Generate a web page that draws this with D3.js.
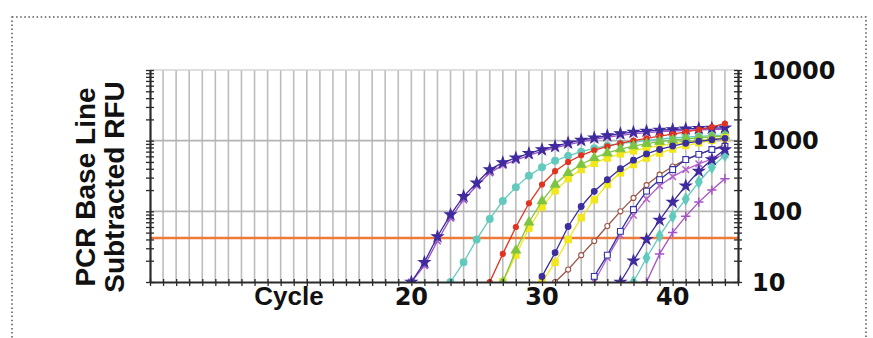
<!DOCTYPE html>
<html>
<head>
<meta charset="utf-8">
<script src="https://cdn.jsdelivr.net/npm/d3@7"></script>
<style>
  body { margin: 0; background: #fff; }
  svg { display: block; }
</style>
</head>
<body>
<div id="vis"></div>
<script>
const FRAME_WIDTH = 873;
const FRAME_HEIGHT = 338;
const PLOT = {left: 150, right: 738, top: 70, bottom: 282};

// axis labels
const xLabels = [20, 30, 40];
const yLabels = ["10", "100", "1000", "10000"];
const thresholdRfu = [42];

// first cycle of every amplification curve
const firstCycle = [20, 20, 23, 26, 27, 27, 30, 30, 31, 34, 34, 36, 37, 38];

// RFU per cycle
const rfuA1 = [10, 19, 44, 90, 163, 252, 390, 490, 570, 660, 750, 830, 930, 1015, 1100, 1180, 1260, 1320, 1365, 1410, 1440, 1470, 1490, 1505, 1520];
const rfuA2 = [10, 17, 38, 80, 145, 230, 350, 450, 530, 620, 710, 790, 880, 960, 1040, 1120, 1190, 1250, 1300, 1340, 1370, 1400, 1420, 1440, 1460];
const rfuB1 = [10, 19, 40, 78, 140, 220, 320, 420, 520, 610, 700, 780, 850, 910, 960, 1010, 1050, 1090, 1120, 1150, 1180, 1200];
const rfuC1 = [10, 25, 60, 130, 240, 370, 500, 620, 730, 830, 920, 1000, 1080, 1160, 1240, 1330, 1430, 1560, 1750];
const rfuC2 = [10, 28, 70, 140, 240, 350, 460, 570, 670, 760, 840, 910, 970, 1020, 1060, 1100, 1130, 1160];
const rfuC3 = [10, 24, 58, 115, 195, 290, 390, 480, 570, 650, 720, 790, 850, 900, 950, 1000, 1050, 1100];
const rfuD1 = [12, 26, 61, 117, 192, 280, 400, 530, 650, 750, 840, 920, 980, 1030, 1080];
const rfuD2 = [10, 19, 40, 81, 146, 240, 350, 460, 570, 670, 760, 850, 930, 1010, 1100];
const rfuE1 = [10, 15, 24, 38, 62, 100, 155, 235, 330, 430, 540, 640, 750, 870];
const rfuE2 = [12, 24, 52, 106, 193, 280, 390, 540, 640, 750, 830];
const rfuE3 = [10, 22, 46, 88, 150, 230, 310, 390, 470, 550, 640];
const rfuF1 = [10, 20, 40, 75, 135, 230, 370, 540, 750];
const rfuF2 = [10, 22, 45, 85, 150, 260, 420, 620];
const rfuF3 = [10, 25, 50, 85, 135, 200, 290];

const rfuAll = [rfuA2, rfuA1, rfuB1, rfuC1, rfuC3, rfuC2, rfuD2, rfuD1, rfuE1, rfuE3, rfuE2, rfuF2, rfuF1, rfuF3];
const firstAll = [firstCycle[1], firstCycle[0], firstCycle[2], firstCycle[3], firstCycle[5], firstCycle[4],
                  firstCycle[7], firstCycle[6], firstCycle[8], firstCycle[10], firstCycle[9],
                  firstCycle[12], firstCycle[11], firstCycle[13]];

const symTimes = d3.symbolTimes || d3.symbolCross;
const symPlus = d3.symbolPlus || d3.symbolCross;

// drawing styles, same order as rfuAll
const styles = [
  {color: "#9a52c4", sym: symTimes, size: 30, fill: "none", stroke: true},
  {color: "#3f2b9e", sym: d3.symbolStar, size: 38, fill: "#3f2b9e"},
  {color: "#62cabc", sym: d3.symbolCircle, size: 36, fill: "#62cabc"},
  {color: "#e2331f", sym: d3.symbolCircle, size: 20, fill: "#e2331f"},
  {color: "#f2e61c", sym: d3.symbolSquare, size: 40, fill: "#f2e61c"},
  {color: "#7ec442", sym: d3.symbolTriangle, size: 36, fill: "#7ec442"},
  {color: "#f2e61c", sym: d3.symbolSquare, size: 40, fill: "#f2e61c"},
  {color: "#3b2f9e", sym: d3.symbolCircle, size: 26, fill: "#3b2f9e"},
  {color: "#9c5444", sym: d3.symbolCircle, size: 20, fill: "#fff"},
  {color: "#b462cc", sym: symTimes, size: 30, fill: "none", stroke: true},
  {color: "#3535a8", sym: d3.symbolSquare, size: 34, fill: "#fff"},
  {color: "#62cabc", sym: d3.symbolDiamond, size: 40, fill: "#62cabc"},
  {color: "#3f2b9e", sym: d3.symbolStar, size: 38, fill: "#3f2b9e"},
  {color: "#a552c4", sym: symPlus, size: 30, fill: "none", stroke: true}
];

const svg = d3.select("#vis")
  .append("svg")
    .attr("width", FRAME_WIDTH)
    .attr("height", FRAME_HEIGHT);

// dotted frame
svg.append("rect")
  .attr("x", 12).attr("y", 17)
  .attr("width", 854).attr("height", 360)
  .attr("fill", "none")
  .attr("stroke", "#555")
  .attr("stroke-width", 1.5)
  .attr("stroke-dasharray", "1.5,2.6");

const X = d3.scaleLinear().domain([0, 45]).range([PLOT.left, PLOT.right]);
const Y = d3.scaleLog().domain([10, 10000]).range([PLOT.bottom, PLOT.top]);

// grid
svg.append("g")
  .selectAll("line")
  .data(d3.range(1, 45))
  .enter()
  .append("line")
    .attr("x1", d => X(d)).attr("x2", d => X(d))
    .attr("y1", PLOT.top).attr("y2", PLOT.bottom)
    .attr("stroke", "#bcbcbc")
    .attr("stroke-width", 1.6);

svg.append("g")
  .selectAll("line")
  .data([100, 1000, 10000])
  .enter()
  .append("line")
    .attr("x1", PLOT.left).attr("x2", PLOT.right)
    .attr("y1", d => Y(d)).attr("y2", d => Y(d))
    .attr("stroke", d => d === 10000 ? "#d4d4d4" : "#b4b4b4")
    .attr("stroke-width", 1.6);

// threshold
svg.append("line")
  .attr("x1", PLOT.left).attr("x2", PLOT.right)
  .attr("y1", Y(thresholdRfu[0])).attr("y2", Y(thresholdRfu[0]))
  .attr("stroke", "#ee7a3a")
  .attr("stroke-width", 2.4);

// clip
svg.append("clipPath").attr("id", "plotclip")
  .append("rect")
    .attr("x", PLOT.left).attr("y", PLOT.top - 6)
    .attr("width", PLOT.right - PLOT.left).attr("height", PLOT.bottom - PLOT.top + 6);

const curves = svg.append("g").attr("clip-path", "url(#plotclip)");
const line = d3.line().x(d => X(d[0])).y(d => Y(d[1]));

rfuAll.forEach((vals, i) => {
  const pts = vals.map((v, k) => [firstAll[i] + k, v]);
  const st = styles[i];
  curves.append("path")
    .datum(pts)
    .attr("d", line)
    .attr("fill", "none")
    .attr("stroke", st.color)
    .attr("stroke-width", 1.3);
  curves.selectAll(null)
    .data(pts)
    .enter()
    .append("path")
      .attr("transform", d => "translate(" + X(d[0]) + "," + Y(d[1]) + ")")
      .attr("d", d3.symbol().type(st.sym).size(st.size))
      .attr("fill", st.fill)
      .attr("stroke", st.color)
      .attr("stroke-width", st.stroke ? 1.5 : 1.1);
});

// axes
const yMinor = [];
[10, 100, 1000].forEach(b => { for (let m = 1; m < 10; m++) yMinor.push(b * m); });
yMinor.push(10000);

const leftAxis = svg.append("g")
  .attr("transform", "translate(" + PLOT.left + ",0)")
  .call(d3.axisLeft(Y).tickValues(yMinor).tickFormat("").tickSizeOuter(0));
leftAxis.selectAll(".tick line").attr("x1", 4).attr("x2", -4);

const rightAxis = svg.append("g")
  .attr("transform", "translate(" + PLOT.right + ",0)")
  .call(d3.axisRight(Y).tickValues(yMinor).tickFormat("").tickSizeOuter(0));
rightAxis.selectAll(".tick line").attr("x1", -4).attr("x2", 4);

const bottomAxis = svg.append("g")
  .attr("transform", "translate(0," + PLOT.bottom + ")")
  .call(d3.axisBottom(X).tickValues(d3.range(0, 46)).tickFormat("").tickSizeOuter(0));
bottomAxis.selectAll(".tick line").attr("y1", -3).attr("y2", 4);

[leftAxis, rightAxis, bottomAxis].forEach(a => {
  a.select(".domain").attr("stroke", "#2a2a2a").attr("stroke-width", 2.2);
  a.selectAll(".tick line").attr("stroke", "#2a2a2a").attr("stroke-width", 1.3);
});

// right labels
svg.append("g")
  .selectAll("text")
  .data(yLabels)
  .enter()
  .append("text")
    .attr("x", 752)
    .attr("y", d => Y(+d))
    .attr("dy", "0.36em")
    .attr("font-family", "DejaVu Sans")
    .attr("font-weight", "bold")
    .attr("font-size", 24)
    .attr("fill", "#111")
    .text(d => d);

// bottom labels
svg.append("g")
  .selectAll("text")
  .data(xLabels)
  .enter()
  .append("text")
    .attr("x", d => X(d))
    .attr("y", 305)
    .attr("text-anchor", "middle")
    .attr("font-family", "DejaVu Sans")
    .attr("font-weight", "bold")
    .attr("font-size", 24)
    .attr("fill", "#111")
    .text(d => d);

svg.append("text")
  .attr("x", 289).attr("y", 305)
  .attr("text-anchor", "middle")
  .attr("font-family", "Liberation Sans, Arial, sans-serif")
  .attr("font-weight", "bold")
  .attr("font-size", 26)
  .attr("fill", "#111")
  .text("Cycle");

const yTitle = svg.append("text")
  .attr("transform", "translate(95,187) rotate(-90)")
  .attr("text-anchor", "middle")
  .attr("font-family", "Liberation Sans, Arial, sans-serif")
  .attr("font-weight", "bold")
  .attr("font-size", 28)
  .attr("fill", "#111");
yTitle.append("tspan").attr("x", 0).attr("y", 0).text("PCR Base Line");
yTitle.append("tspan").attr("x", 0).attr("y", 29).text("Subtracted RFU");
</script>
</body>
</html>
